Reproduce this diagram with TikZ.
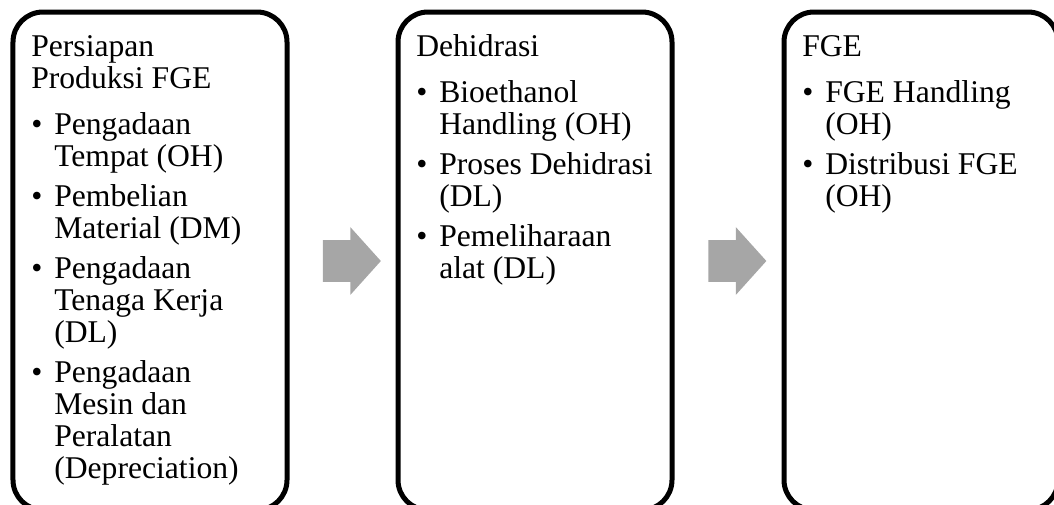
\documentclass[tikz,border=0pt]{standalone}
\usepackage{fontspec}
\setmainfont{Liberation Serif}
\usetikzlibrary{shapes.arrows,positioning,calc}
\definecolor{arrowcolor}{RGB}{166,166,166}

\begin{document}
\begin{tikzpicture}[
        phase/.style={rectangle, draw=black, line width=0.125cm, rounded corners=0.75cm, minimum width=6.85cm, minimum height=12.45cm, inner sep=0pt, outer sep=0pt},
        steps/.style={anchor=base west, inner sep=0pt, align=left, font=\fontsize{22.5}{22.8}\selectfont},
        flow/.style={single arrow, fill=arrowcolor, draw=none, text height=0pt, text depth=0pt, inner xsep=0pt, inner ysep=0.5125cm, minimum height=1.45cm, single arrow head extend=0.325cm, single arrow tip angle=96}
    ]
        \useasboundingbox (0,0) rectangle (26.35,-12.6);
        
        % Phase boxes
        \node[phase] (phase1) at (3.75,-6.525) {};
        \node[phase, right=2.775cm of phase1] (phase2) {};
        \node[phase, right=2.8cm of phase2] (phase3) {};
        
        % Arrows between phases
        \node[flow] (flow1) at ($(phase1.east)!0.5!(phase2.west)$) {};
        \node[flow] (flow2) at ($(phase2.east)!0.5!(phase3.west)$) {};
        
        % Persiapan Produksi FGE
        \node[steps] (list1) at ($(phase1.north west)+(0.45,-1.1)$) {
            \begin{tabular}[t]{@{}p{0.575cm}@{}l@{}}
                \multicolumn{2}{@{}l@{}}{Persiapan} \\
                \multicolumn{2}{@{}l@{}}{Produksi FGE} \\[0.35cm]
                \textbullet & Pengadaan \\
                & Tempat (OH) \\[0.2cm]
                \textbullet & Pembelian \\
                & Material (DM) \\[0.2cm]
                \textbullet & Pengadaan \\
                & Tenaga Kerja \\
                & (DL) \\[0.2cm]
                \textbullet & Pengadaan \\
                & Mesin dan \\
                & Peralatan \\
                & (Depreciation)
            \end{tabular}
        };
        
        % Dehidrasi
        \node[steps] (list2) at ($(phase2.north west)+(0.45,-1.1)$) {
            \begin{tabular}[t]{@{}p{0.575cm}@{}l@{}}
                \multicolumn{2}{@{}l@{}}{Dehidrasi} \\[0.35cm]
                \textbullet & Bioethanol \\
                & Handling (OH) \\[0.2cm]
                \textbullet & Proses Dehidrasi \\
                & (DL) \\[0.2cm]
                \textbullet & Pemeliharaan \\
                & alat (DL)
            \end{tabular}
        };
        
        % FGE
        \node[steps] (list3) at ($(phase3.north west)+(0.45,-1.1)$) {
            \begin{tabular}[t]{@{}p{0.575cm}@{}l@{}}
                \multicolumn{2}{@{}l@{}}{FGE} \\[0.35cm]
                \textbullet & FGE Handling \\
                & (OH) \\[0.2cm]
                \textbullet & Distribusi FGE \\
                & (OH)
            \end{tabular}
        };
        
    \end{tikzpicture}
\end{document}
